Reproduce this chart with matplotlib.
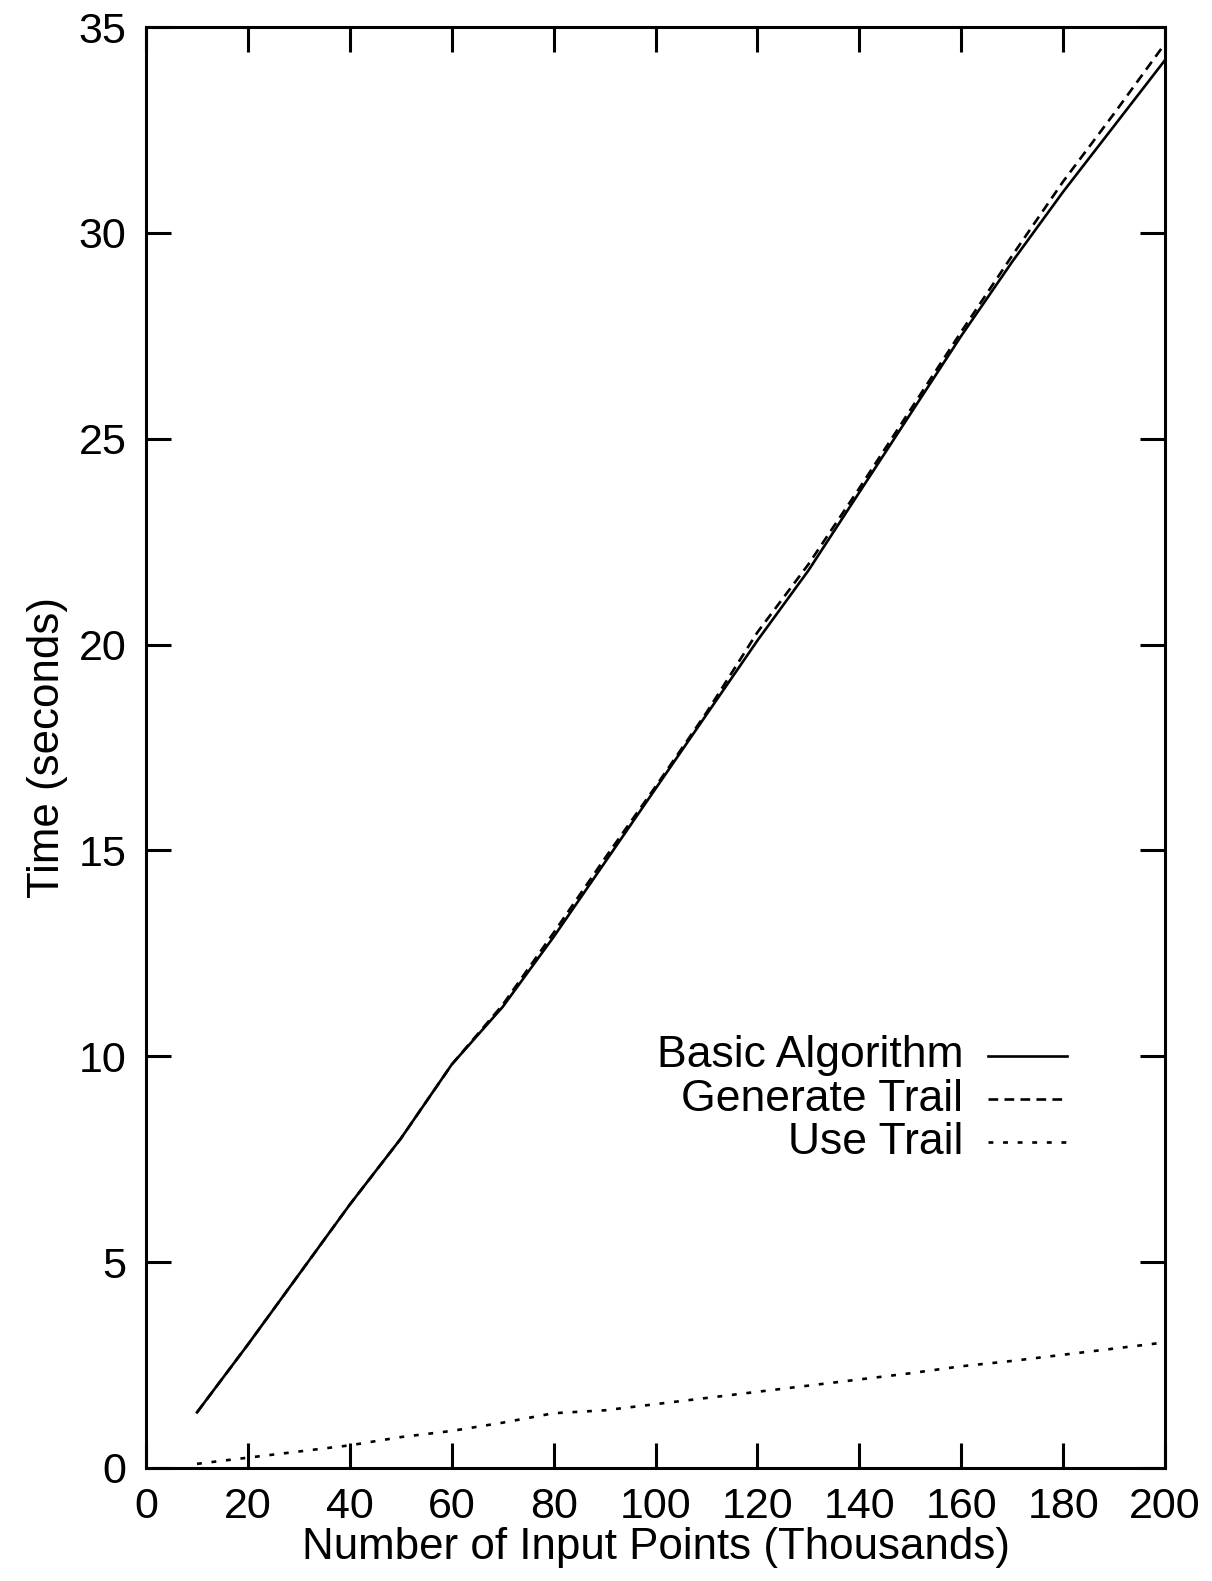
import numpy as np
import matplotlib
matplotlib.use("Agg")
import matplotlib.pyplot as plt

plt.rcParams["font.family"] = ["Liberation Sans", "DejaVu Sans"]
plt.rcParams["lines.scale_dashes"] = False

# thousands of input points
n_points = [10, 20, 30, 40, 50, 60, 70, 80, 90, 100,
            110, 120, 130, 140, 150, 160, 170, 180, 190, 200]

basic_time = [1.35, 3.0, 4.7, 6.4, 8.0, 9.8, 11.2, 12.9, 14.7, 16.5,
              18.3, 20.1, 21.8, 23.7, 25.6, 27.5, 29.3, 31.0, 32.6, 34.2]
generate_time = [1.35, 3.0, 4.7, 6.4, 8.0, 9.8, 11.25, 13.0, 14.8, 16.55,
                 18.35, 20.3, 21.95, 23.8, 25.7, 27.6, 29.45, 31.25, 32.9, 34.6]
use_time = [0.1, 0.25, 0.4, 0.55, 0.75, 0.9, 1.1, 1.33, 1.4, 1.55,
            1.7, 1.85, 2.0, 2.15, 2.3, 2.47, 2.6, 2.75, 2.9, 3.05]

labels = ["Basic Algorithm", "Generate Trail", "Use Trail"]
series = [basic_time, generate_time, use_time]
styles = [dict(linestyle="-"), dict(dashes=(7, 4.5)), dict(dashes=(3.5, 7))]

fig = plt.figure(figsize=(12.12, 15.81), dpi=100)
ax = fig.add_axes([0.1205, 0.0715, 0.8408, 0.9114])

for y, st in zip(series, styles):
    ax.plot(n_points, y, color="black", lw=1.9, **st)

ax.set_xlim(0, 200)
ax.set_ylim(0, 35)
ax.set_xticks(np.arange(0, 201, 20))
ax.set_yticks(np.arange(0, 36, 5))
ax.tick_params(direction="in", length=18, width=2.2, top=True, right=True,
               labelsize=31, pad=14)
for s in ax.spines.values():
    s.set_linewidth(2.2)

ax.set_xlabel("Number of Input Points (Thousands)", fontsize=31.6, labelpad=0)
ax.set_ylabel("Time (seconds)", fontsize=31.6, labelpad=8)

# key, right-aligned text with line samples after it
for i, (lab, st) in enumerate(zip(labels, styles)):
    yk = 0.286 - i * 0.030
    ax.text(0.802, yk, lab, transform=ax.transAxes, ha="right", va="center",
            fontsize=32)
    ax.plot([0.826, 0.904], [yk, yk], transform=ax.transAxes, color="black",
            lw=1.9, **st)

fig.savefig("out.png", dpi=100)
